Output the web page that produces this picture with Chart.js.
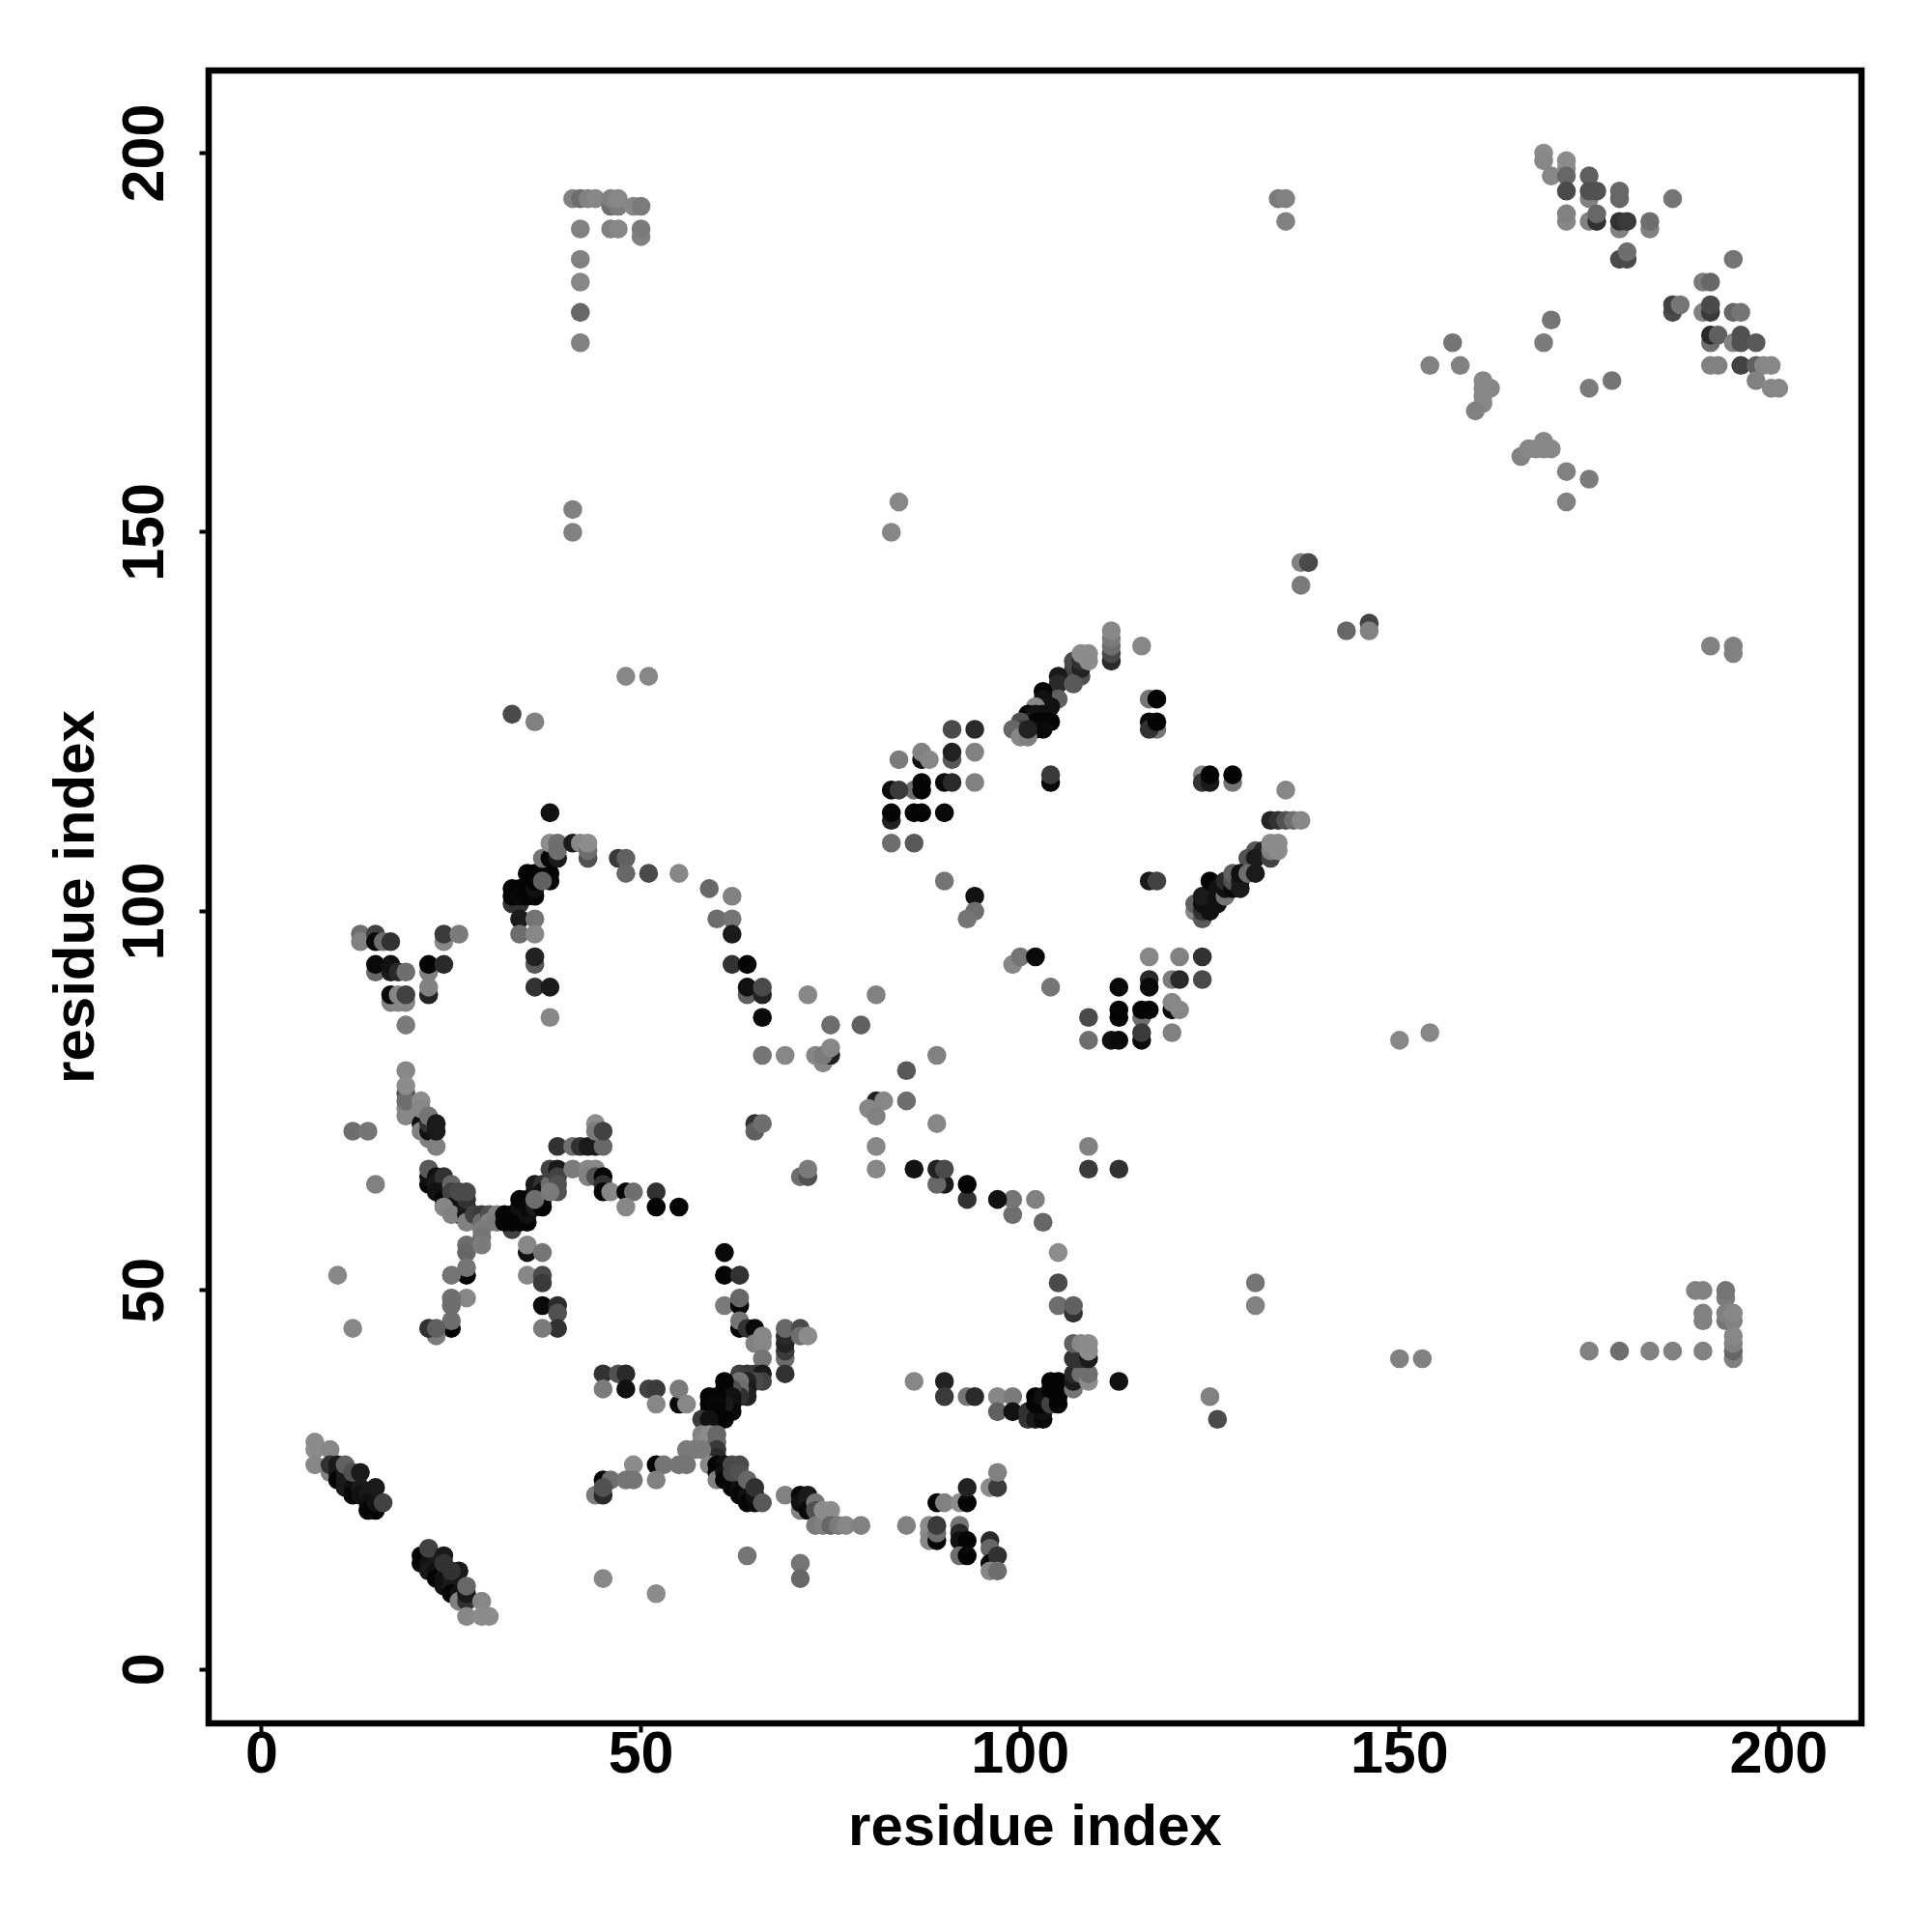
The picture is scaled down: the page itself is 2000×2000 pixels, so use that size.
<!DOCTYPE html>
<html>
<head>
<meta charset="utf-8">
<title>contact map</title>
<script src="https://cdn.jsdelivr.net/npm/chart.js@4/dist/chart.umd.min.js"></script>
<style>
  html, body { margin: 0; padding: 0; background: #fff; }
  canvas { display: block; }
</style>
</head>
<body>
<canvas id="chart" width="2000" height="2000"></canvas>
<script>
// tick labels
const xTicks = [0, 50, 100, 150, 200];
const yTicks = [0, 50, 100, 150, 200];

// contacts: [residue i, residue j, score]
const bandLowA = [[7,30,.05],[7,29,.05],[9,29,.1],[7,27,.1],[9,26,.15],[9,27,.7],[10,27,.85],[10,26,.85],[10,25,.97],[11,26,.85],[11,25,.85],[11,24,.85],[12,25,.85],[12,24,.9],[12,23,.97],[13,24,.85],[13,23,.9],[14,23,.85],[14,22,.9],[14,21,.97],[15,21,.97],[15,22,.9],[11,27,.4],[12,26,.5],[13,26,.85],[15,24,.85],[16,22,.6]];
const bandLowB = [[21,15,.97],[21,14,.97],[22,14,.9],[22,13,.85],[23,14,.85],[23,13,.9],[23,12,.97],[24,12,.9],[24,11,.9],[25,12,.85],[25,11,.85],[25,10,.97],[26,10,.9],[26,9,.15],[26,13,.85],[22,16,.6],[24,15,.85],[24,14,.7],[25,13,.7],[27,9,.7],[27,10,.85],[27,11,.35],[29,9,.1],[27,7,.1],[29,7,.05],[30,7,.05]];
const crossUpperArm = [[19,79,.1],[19,74,.1],[19,73,.1],[19,76,.5],[19,75,.3],[19,77,.05],[21,72,.9],[21,71,.15],[22,70,.15],[22,71,.9],[22,72,.7],[21,75,.05],[21,74,.1],[22,73,.25],[23,69,.15],[23,71,.85],[23,72,.85],[12,71,.3],[14,71,.25],[15,64,.15]];
const crossLeftArm = [[22,64,.97],[22,65,.9],[22,66,.45],[23,65,.9],[23,64,.85],[24,65,.7],[24,64,.7],[23,63,.9],[24,63,.9],[24,62,.97],[25,62,.9],[25,64,.35],[25,63,.6],[26,62,.7],[26,61,.85],[26,60,.97],[25,61,.9],[24,61,.1],[25,60,.15],[27,60,.9],[27,61,.85],[27,62,.7],[26,63,.55],[27,63,.55],[27,59,.15]];
const crossMiddle = [[28,60,.6],[29,60,.65],[29,59,.3],[30,60,.5],[30,59,.15],[31,60,.15],[31,59,.2],[29,58,.2],[29,57,.25],[27,56,.3],[27,55,.35],[29,56,.2],[33,58,.6],[32,60,.97],[32,59,.97],[33,60,.97],[33,59,.97],[34,59,.97],[34,60,.97],[35,59,.97],[35,60,.9],[34,61,.9],[34,62,.97],[35,62,.97],[35,61,.95],[36,61,.85],[36,63,.9],[36,64,.85],[37,64,.7],[37,63,.9],[37,62,.9],[37,61,.97],[36,62,.3],[38,64,.3],[38,66,.6],[39,66,.85],[39,65,.6],[39,64,.5],[39,63,.5],[38,63,.2]];
const crossRightArm = [[39,69,.7],[41,69,.3],[42,69,.7],[43,69,.85],[44,69,.85],[45,69,.35],[44,72,.05],[44,71,.2],[45,71,.6],[41,66,.2],[43,66,.1],[44,66,.1],[43,65,.15],[44,65,.5],[45,65,.97],[45,64,.7],[45,63,.97],[46,63,.1],[48,63,.97],[49,63,.3],[48,61,.1],[52,63,.7],[52,61,.97],[55,61,.97]];
const crossLowerArms = [[35,55,.9],[35,56,.1],[37,55,.25],[35,52,.1],[37,52,.55],[37,51,.65],[37,48,.95],[39,48,.75],[39,47,.5],[39,45,.7],[37,45,.2],[27,52,.97],[27,53,.25],[25,52,.25],[27,49,.1],[25,49,.3],[25,48,.3],[25,45,.97],[25,46,.3],[23,44,.2],[22,45,.7],[23,45,.4],[10,52,.1],[12,45,.1]];
const lowerCrossTop = [[61,55,.95],[61,52,.97],[63,52,.7],[61,48,.2],[63,48,.97],[63,49,.35],[63,45,.97],[63,46,.25],[64,45,.7],[65,45,.95],[65,43,.15],[66,43,.1],[66,44,.1],[66,41,.25],[69,41,.3],[69,42,.65],[69,43,.8],[69,44,.75],[69,45,.35],[69,39,.7],[71,45,.55],[71,44,.3],[72,44,.05]];
const lowerCrossLeft = [[45,39,.7],[47,39,.5],[48,39,.75],[45,37,.2],[48,37,.9],[51,37,.6],[52,37,.65],[52,35,.1],[55,35,.95],[55,37,.2],[56,35,.1]];
const lowerCrossCentre = [[63,39,.6],[64,39,.65],[65,39,.65],[66,39,.85],[66,38,.6],[65,38,.55],[64,38,.8],[64,37,.85],[64,36,.8],[63,38,.25],[63,37,.3],[63,36,.7],[62,37,.5],[61,38,.97],[61,37,.97],[61,36,.97],[62,36,.9],[62,35,.9],[62,34,.95],[61,35,.85],[60,36,.97],[59,36,.97],[59,35,.97],[59,34,.97],[60,35,.95],[60,34,.97],[60,33,.97],[61,33,.97],[58,33,.65],[59,33,.9]];
const lowerCrossWaist = [[58,31,.15],[58,30,.1],[59,31,.05],[59,30,.05],[59,29,.05],[60,31,.35],[60,30,.35],[60,29,.65],[60,28,.75],[56,29,.2],[57,29,.2],[58,29,.2],[59,27,.1],[52,27,.97],[53,27,.25],[55,27,.25],[56,27,.25],[49,27,.05],[45,25,.97],[46,25,.3],[48,25,.25],[49,25,.25],[52,25,.15],[44,23,.2],[45,23,.75],[45,24,.5]];
const lowerCrossFoot = [[60,27,.97],[61,27,.9],[60,26,.97],[60,25,.15],[61,26,.9],[61,25,.97],[62,25,.97],[62,24,.97],[63,24,.9],[63,23,.97],[64,23,.9],[64,22,.97],[65,22,.95],[65,23,.9],[62,27,.55],[63,27,.55],[62,26,.55],[63,26,.5],[64,25,.35],[65,24,.7],[66,22,.45]];
const lowTail = [[69,23,.15],[71,21,.15],[71,23,.95],[71,22,.9],[72,23,.85],[72,22,.85],[72,21,.95],[73,22,.25],[73,21,.5],[73,19,.2],[74,19,.15],[74,21,.05],[75,21,.05],[75,19,.35],[76,19,.2],[77,19,.1],[79,19,.15],[85,19,.15],[88,19,.05],[88,18,.05],[88,17,.1],[89,17,.97],[89,18,.3],[89,19,.65],[92,19,.25],[92,18,.75],[92,17,.9],[93,17,.97],[92,15,.3],[93,15,.97],[96,17,.75],[96,16,.35],[96,14,.95],[97,15,.7],[96,13,.1],[97,13,.3],[89,22,.97],[90,22,.15],[92,22,.05],[93,22,.97],[93,24,.8],[96,24,.05],[97,24,.65],[97,26,.15],[45,12,.1],[52,10,.05],[64,15,.25],[71,14,.25],[71,12,.35]];
const ringLower = [[86,38,.1],[90,38,.8],[90,36,.65],[93,36,.25],[94,36,.75],[97,36,.1],[99,36,.2],[97,34,.4],[99,34,.9],[101,34,.7],[102,34,.75],[101,33,.7],[102,33,.85],[103,33,.95],[103,34,.9],[102,35,.97],[102,36,.97],[103,35,.97],[103,36,.9],[104,35,.6],[104,37,.97],[104,38,.97],[105,38,.97],[105,37,.97],[105,36,.97],[105,35,.97],[107,37,.25],[107,38,.85],[107,39,.75],[108,39,.3],[109,38,.05],[109,39,.3],[113,38,.9],[107,41,.7],[108,41,.7],[109,41,.85],[107,43,.4],[108,43,.1],[109,43,.05],[109,42,.05]];
const ringUpper = [[105,55,.05],[105,51,.55],[105,48,.3],[107,47,.7],[107,48,.4],[103,59,.35],[99,60,.3],[99,62,.25],[102,62,.15],[97,62,.9],[93,62,.7],[93,64,.97],[90,64,.85],[89,64,.35],[89,66,.8],[90,66,.55],[86,66,.9],[81,66,.1],[109,66,.65],[113,66,.7],[71,65,.3],[72,65,.5],[72,66,.2],[109,69,.15]];
const archLeft = [[13,97,.3],[13,96,.15],[15,97,.6],[15,96,.95],[16,96,.3],[17,96,.7],[15,92,.35],[15,93,.95],[17,92,.85],[17,93,.9],[18,92,.75],[19,92,.3],[17,88,.15],[18,88,.1],[19,88,.1],[17,89,.95],[18,89,.1],[19,89,.6],[19,85,.2],[22,92,.15],[22,93,.97],[24,93,.75],[22,89,.8],[22,90,.15],[24,96,.1],[24,97,.65],[26,97,.2]];
const archTop = [[38,113,.9],[33,101,.7],[34,101,.7],[33,102,.97],[33,103,.97],[34,102,.95],[34,103,.97],[35,103,.97],[35,102,.97],[36,102,.97],[36,103,.9],[35,105,.97],[36,105,.97],[36,104,.97],[37,105,.97],[38,105,.97],[38,104,.97],[37,104,.4],[37,107,.25],[38,107,.97],[39,107,.85],[38,109,.05],[39,108,.3],[39,109,.3],[41,109,.85],[42,109,.1],[43,107,.5],[43,108,.3],[43,109,.05],[47,107,.65],[48,107,.4],[48,105,.35],[51,105,.55],[55,105,.1],[59,103,.35],[62,102,.15],[60,99,.3],[62,99,.25],[62,97,.85],[62,93,.7],[64,93,.97],[64,89,.4],[64,90,.9],[66,89,.8],[66,90,.55],[66,86,.95],[34,99,.85],[36,99,.25],[34,97,.3],[36,97,.1],[36,93,.45],[36,94,.8],[36,90,.7],[38,90,.85],[38,86,.1]];
const centreScatter = [[72,89,.1],[75,85,.3],[79,85,.4],[66,81,.25],[69,81,.1],[73,81,.1],[74,80,.1],[75,81,.8],[74,81,.2],[75,82,.1],[81,89,.15],[85,79,.45],[89,81,.15],[85,75,.3],[81,75,.8],[82,75,.1],[80,74,.1],[81,73,.15],[89,72,.1],[81,69,.1],[65,72,.7],[65,71,.4],[66,72,.3],[33,126,.55],[36,125,.15],[48,131,.1],[51,131,.1],[41,153,.15],[41,150,.15],[83,150,.1],[84,154,.1]];
const patchUpperLeft = [[91,124,.55],[94,124,.75],[84,120,.2],[87,120,.9],[87,121,.15],[88,120,.1],[91,120,.45],[91,121,.8],[94,121,.15],[86,116,.3],[87,116,.97],[87,117,.97],[90,117,.95],[91,117,.75],[94,117,.15],[83,116,.95],[84,116,.65],[83,112,.8],[83,113,.97],[86,113,.97],[87,113,.97],[90,113,.95],[83,109,.3],[86,109,.45],[90,104,.25]];
const diagUpper = [[112,133,.75],[112,134,.55],[112,135,.3],[112,136,.2],[112,137,.1],[116,135,.1],[107,132,.6],[107,133,.55],[108,131,.5],[108,132,.8],[108,133,.7],[109,133,.05],[108,134,.05],[109,134,.05],[105,131,.85],[105,130,.75],[107,130,.45],[105,128,.4],[103,129,.97],[103,128,.9],[104,127,.9],[102,127,.1],[101,126,.97],[103,126,.9],[102,126,.9],[104,125,.97],[101,125,.8],[102,125,.97],[103,125,.97],[103,124,.95],[102,124,.95],[100,125,.5],[100,124,.6],[99,124,.35],[100,123,.1],[101,123,.15],[101,124,.8]];
const diagUpperSide = [[117,128,.25],[118,128,.97],[117,125,.95],[118,124,.25],[117,124,.7],[118,125,.97],[104,117,.95],[104,118,.65],[124,118,.1],[124,117,.7],[125,117,.85],[125,118,.97],[128,117,.25],[128,118,.97],[135,116,.1]];
const diagLower = [[133,112,.8],[134,112,.7],[135,112,.5],[136,112,.3],[137,112,.1],[131,108,.45],[132,108,.8],[130,107,.5],[131,107,.85],[133,107,.6],[133,108,.15],[134,109,.05],[133,109,.05],[134,108,.05],[123,100,.1],[123,101,.4],[124,99,.45],[124,100,.7],[124,101,.9],[125,100,.9],[125,101,.9],[124,102,.85],[125,104,.97],[126,101,.9],[126,103,.9],[126,102,.9],[127,102,.25],[127,103,.9],[127,104,.75],[128,103,.95],[128,104,.5],[128,105,.4],[129,103,.85],[129,104,.85],[129,105,.9],[130,105,.3],[131,105,.85],[117,104,.85],[118,104,.6],[94,102,.9],[94,100,.3],[93,99,.25]];
const patchMiddle = [[99,93,.1],[100,94,.25],[102,94,.95],[104,90,.25],[117,94,.1],[121,94,.15],[124,94,.7],[117,91,.75],[117,90,.95],[120,91,.2],[121,91,.75],[124,91,.55],[113,90,.95],[113,87,.97],[113,86,.97],[116,86,.3],[116,87,.97],[117,87,.97],[120,87,.95],[120,88,.1],[121,87,.1],[109,86,.55],[109,83,.3],[112,83,.9],[113,83,.95],[116,83,.95],[116,84,.65],[120,84,.15],[150,83,.1],[154,84,.1]];
const farLow = [[131,51,.25],[131,48,.15],[150,41,.15],[153,41,.15],[125,36,.15],[126,33,.55],[175,42,.15],[179,42,.3],[183,42,.15],[186,42,.15],[190,42,.15],[189,50,.15],[190,50,.15],[193,49,.2],[193,50,.25],[190,46,.15],[190,47,.15],[193,46,.25],[193,47,.15],[194,46,.15],[194,47,.1],[194,41,.15],[194,42,.35],[194,43,.15],[194,44,.1]];
const cornerL = [[41,194,.15],[42,194,.3],[43,194,.15],[44,194,.1],[46,193,.3],[47,193,.2],[46,194,.15],[47,194,.1],[49,193,.1],[50,193,.2],[42,190,.15],[46,190,.15],[47,190,.1],[50,189,.15],[50,190,.2],[42,186,.15],[42,183,.1],[42,179,.35],[42,175,.15]];
const farMiddle = [[134,194,.2],[135,194,.15],[135,191,.15],[137,146,.15],[138,146,.55],[137,143,.2],[143,137,.35],[146,138,.6],[146,137,.15],[191,135,.15],[194,134,.15],[194,135,.15]];
const cornerTop = [[169,200,.05],[169,199,.1],[172,199,.05],[172,198,.05],[170,197,.1],[172,197,.35],[172,195,.55],[175,197,.4],[175,194,.15],[175,195,.5],[176,195,.5],[179,195,.35],[179,194,.35],[186,194,.25],[172,191,.1],[172,192,.15],[175,191,.15],[176,191,.7],[176,192,.35],[179,190,.15],[179,191,.7],[180,191,.65],[183,190,.15],[183,191,.3],[179,186,.55],[180,186,.55],[180,187,.3]];
const cornerRight = [[194,186,.25],[190,183,.2],[191,183,.35],[186,179,.55],[186,180,.6],[187,180,.25],[190,179,.15],[191,179,.65],[191,180,.55],[194,179,.35],[195,179,.25],[191,175,.3],[191,176,.75],[192,176,.4],[194,175,.15],[195,175,.5],[195,176,.5],[197,175,.45],[191,172,.15],[192,172,.15],[195,172,.6],[197,172,.4],[198,172,.1],[199,172,.1],[197,170,.15],[199,169,.1],[200,169,.1]];
const cornerScatter = [[170,178,.25],[169,175,.2],[175,169,.2],[178,170,.25],[157,175,.25],[154,172,.15],[158,172,.15],[161,170,.1],[161,169,.1],[162,169,.1],[161,168,.1],[161,167,.1],[160,166,.15],[166,160,.15],[167,161,.1],[168,161,.1],[169,162,.1],[169,161,.1],[170,161,.1],[172,158,.15],[175,157,.2],[172,154,.15]];

const contacts = [
  ...bandLowA, ...bandLowB, ...crossUpperArm, ...crossLeftArm, ...crossMiddle,
  ...crossRightArm, ...crossLowerArms, ...lowerCrossTop, ...lowerCrossLeft,
  ...lowerCrossCentre, ...lowerCrossWaist, ...lowerCrossFoot, ...lowTail,
  ...ringLower, ...ringUpper, ...archLeft, ...archTop, ...centreScatter,
  ...patchUpperLeft, ...diagUpper, ...diagUpperSide, ...diagLower, ...patchMiddle,
  ...farLow, ...cornerL, ...farMiddle, ...cornerTop, ...cornerRight, ...cornerScatter
];

// higher score = darker dot
function scoreToGrey(score) {
  const g = Math.round(144 * (1 - Math.pow(score, 1.2)));
  return `rgb(${g},${g},${g})`;
}

const fontFamily = "'Liberation Sans', Arial, sans-serif";
const titleFont = { family: fontFamily, size: 60, weight: "bold" };
const xTickFont = { family: fontFamily, size: 61, weight: "bold", lineHeight: 0.75 };
const yTickFont = { family: fontFamily, size: 61, weight: "bold" };

// the box round the plot
const plotBox = {
  id: "plotBox",
  afterDraw(chart) {
    const { ctx, chartArea: a } = chart;
    ctx.save();
    ctx.strokeStyle = "#000";
    ctx.lineWidth = 6.5;
    ctx.strokeRect(a.left, a.top, a.right - a.left, a.bottom - a.top);
    ctx.restore();
  }
};

new Chart(document.getElementById("chart").getContext("2d"), {
  type: "scatter",
  data: {
    datasets: [{
      data: contacts.map(c => ({ x: c[0], y: c[1] })),
      pointBackgroundColor: contacts.map(c => scoreToGrey(c[2])),
      pointBorderWidth: 0,
      pointRadius: 9.8
    }]
  },
  options: {
    responsive: false,
    animation: false,
    devicePixelRatio: 1,
    layout: { padding: { top: 73, right: 73, left: 0, bottom: 0 } },
    plugins: { legend: { display: false }, tooltip: { enabled: false } },
    scales: {
      x: {
        type: "linear",
        min: -7,
        max: 210.9,
        afterBuildTicks: scale => { scale.ticks = xTicks.map(v => ({ value: v })); },
        afterFit: scale => { scale.height = 216; },
        border: { display: false },
        grid: { drawOnChartArea: false, tickLength: 9.5, tickWidth: 4, tickColor: "#000" },
        ticks: { color: "#000", font: xTickFont, padding: 2, maxRotation: 0, minRotation: 0, autoSkip: false },
        title: { display: true, text: "residue index", color: "#000", font: titleFont, padding: { top: 0, bottom: 70.5 } }
      },
      y: {
        type: "linear",
        min: -7.1,
        max: 210.9,
        afterBuildTicks: scale => { scale.ticks = yTicks.map(v => ({ value: v })); },
        afterFit: scale => { scale.width = 216; },
        border: { display: false },
        grid: { drawOnChartArea: false, tickLength: 9.5, tickWidth: 4, tickColor: "#000" },
        ticks: { color: "#000", font: yTickFont, padding: 3.5, minRotation: 90, maxRotation: 90, crossAlign: "center", autoSkip: false },
        title: { display: true, text: "residue index", color: "#000", font: titleFont, padding: { top: 44, bottom: 0 } }
      }
    }
  },
  plugins: [plotBox]
});
</script>
</body>
</html>
